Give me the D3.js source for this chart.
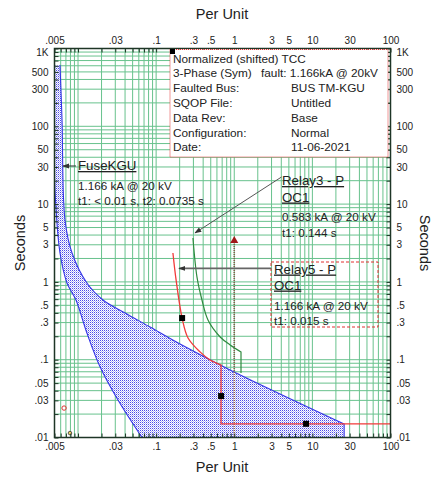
<!DOCTYPE html>
<html>
<head>
<meta charset="utf-8">
<script src="https://cdn.jsdelivr.net/npm/d3@7"></script>
<style>
  body { margin: 0; background: #fff; }
  text { font-family: Arial, "Liberation Sans", sans-serif; fill: #222; }
</style>
</head>
<body>
<svg id="chart" width="432" height="479"></svg>
<script>
// tick values / labels
const xTicks = [0.005, 0.03, 0.1, 0.3, 0.5, 1, 3, 5, 10, 30, 100];
const xTickLabels = [".005", ".03", ".1", ".3", ".5", "1", "3", "5", "10", "30", "100"];
const yTicks = [1000, 500, 300, 100, 50, 30, 10, 5, 3, 1, 0.5, 0.3, 0.1, 0.05, 0.03, 0.01];
const yTickLabels = ["1K", "500", "300", "100", "50", "30", "10", "5", "3", "1", ".5", ".3", ".1", ".05", ".03", ".01"];

// FuseKGU band (per unit, seconds)
const fuseMinMelt = [[0.0047, 614], [0.0049, 40], [0.00515, 11.3], [0.00588, 2.35], [0.00723, 0.968],
  [0.00942, 0.585], [0.013, 0.22], [0.0192, 0.0805], [0.0325, 0.0303], [0.0659, 0.01]];
const fuseTotalClear = [[0.00588, 614], [0.00624, 121], [0.00681, 6.25], [0.00838, 2.35], [0.013, 0.968],
  [0.0209, 0.585], [0.04, 0.398], [0.0836, 0.263], [0.202, 0.159], [0.883, 0.0738], [25.5, 0.0149]];
const fuseEnd = [[25.5, 0.0149], [25.5, 0.01]];

// Relay5 - P OC1 (red)
const relay5Curve = [[0.164, 2.35], [0.18, 1.06], [0.215, 0.343], [0.256, 0.19], [0.365, 0.126], [0.49, 0.099], [0.678, 0.0855]];
const relay5Step = [[0.678, 0.0855], [0.678, 0.015], [100, 0.015]];
const relay5Marks = [[0.215, 0.343], [0.678, 0.0341], [8.3, 0.015]];

// Relay3 - P OC1 (green)
const relay3Curve = [[0.296, 3.66], [0.333, 1.16], [0.386, 0.585], [0.461, 0.324], [0.66, 0.196], [0.886, 0.155], [1.22, 0.126]];
const relay3Step = [[1.22, 0.126], [1.22, 0.0675]];

// fault marker at 1 PU
const faultLine = [[1, 3.46], [1, 0.01]];

// leader arrow tips
const fuseTip = [0.00643, 30.9];
const relay3Tip = [0.315, 4.26];
const relay5Tip = [0.196, 1.49];

const infoLeft = ["Normalized (shifted) TCC", "3-Phase (Sym)", "Faulted  Bus:", "SQOP  File:", "Data  Rev:", "Configuration:", "Date:"];
const infoRight = ["fault: 1.166kA @ 20kV", "BUS TM-KGU", "Untitled", "Base", "Normal", "11-06-2021"];

const svg = d3.select("#chart");
const margin = { top: 48.5, right: 41.5, bottom: 41.5, left: 54.5 };
const width = 432, height = 479;

const x = d3.scaleLog().domain([0.005, 100]).range([margin.left, width - margin.right]);
const y = d3.scaleLog().domain([0.01, 1000]).range([height - margin.bottom, margin.top]);

const defs = svg.append("defs");
defs.append("clipPath").attr("id", "clip")
  .append("rect")
  .attr("x", margin.left).attr("y", margin.top)
  .attr("width", x.range()[1] - margin.left).attr("height", y.range()[0] - margin.top);

// dotted fill of the fuse band
const pat = defs.append("pattern").attr("id", "dots")
  .attr("patternUnits", "userSpaceOnUse").attr("width", 2).attr("height", 2);
pat.append("rect").attr("width", 2).attr("height", 2).attr("fill", "#ffffff");
pat.append("rect").attr("width", 1).attr("height", 1).attr("fill", "#4a4ae8");
pat.append("rect").attr("x", 1).attr("y", 1).attr("width", 1).attr("height", 1).attr("fill", "#b4b4f6");

defs.append("marker").attr("id", "arrow")
  .attr("viewBox", "0 -4 9 8").attr("refX", 8).attr("refY", 0)
  .attr("markerWidth", 7).attr("markerHeight", 7).attr("markerUnits", "userSpaceOnUse")
  .attr("orient", "auto")
  .append("path").attr("d", "M0,-3.2L9,0L0,3.2Z").attr("fill", "#333");

// grid lines 1..9 per decade
const minor = [];
for (let k = -3; k <= 3; k++) for (let n = 1; n <= 9; n++) minor.push(n * Math.pow(10, k));
const xMinor = minor.filter(v => v >= 0.005 * 0.999 && v <= 100 * 1.001);
const yMinor = minor.filter(v => v >= 0.01 * 0.999 && v <= 1000 * 1.001);

const grid = svg.append("g").attr("stroke", "#4fb87a").attr("stroke-width", 1).attr("opacity", 0.85);
grid.selectAll(".gx").data(xMinor).enter().append("line")
  .attr("x1", d => x(d)).attr("x2", d => x(d))
  .attr("y1", margin.top).attr("y2", y.range()[0]);
grid.selectAll(".gy").data(yMinor).enter().append("line")
  .attr("y1", d => y(d)).attr("y2", d => y(d))
  .attr("x1", margin.left).attr("x2", x.range()[1]);

const plot = svg.append("g").attr("clip-path", "url(#clip)");
const line = d3.line().x(d => x(d[0])).y(d => y(d[1]));
const smooth = d3.line().x(d => x(d[0])).y(d => y(d[1])).curve(d3.curveCatmullRom.alpha(0.5));

// fuse band
const bandPath = smooth(fuseMinMelt) +
  line([fuseMinMelt[fuseMinMelt.length - 1], fuseEnd[1]]).replace("M", "L") +
  line(fuseEnd.slice().reverse()).replace("M", "L") +
  smooth(fuseTotalClear.slice().reverse()).replace("M", "L") + "Z";
plot.append("path").attr("d", bandPath).attr("fill", "url(#dots)").attr("stroke", "none");
plot.append("path").attr("d", smooth(fuseMinMelt)).attr("fill", "none").attr("stroke", "#3434e8").attr("stroke-width", 1.1);
plot.append("path").attr("d", smooth(fuseTotalClear) + line(fuseEnd).replace("M", "L"))
  .attr("fill", "none").attr("stroke", "#3434e8").attr("stroke-width", 1.1);

// fault marker
plot.append("path").attr("d", line(faultLine)).attr("fill", "none")
  .attr("stroke", "#8a5a4a").attr("stroke-width", 1.6).attr("stroke-dasharray", "1,1");
plot.append("path")
  .attr("d", `M${x(1)},${y(3.46) - 4}l-4,7h8z`).attr("fill", "#a01818");

// relay3 green
plot.append("path").attr("d", smooth(relay3Curve) + line(relay3Step).replace("M", "L"))
  .attr("fill", "none").attr("stroke", "#2f8a3f").attr("stroke-width", 1.2);

// relay5 red
plot.append("path").attr("d", smooth(relay5Curve) + line(relay5Step).replace("M", "L"))
  .attr("fill", "none").attr("stroke", "#f23a3a").attr("stroke-width", 1.3);
plot.selectAll(".mk").data(relay5Marks).enter().append("rect")
  .attr("x", d => x(d[0]) - 3).attr("y", d => y(d[1]) - 3)
  .attr("width", 6).attr("height", 6).attr("fill", "#000");

// small device icons bottom-left
plot.append("circle").attr("cx", x(0.00663)).attr("cy", y(0.0239)).attr("r", 2.2)
  .attr("fill", "none").attr("stroke", "#e03030").attr("stroke-width", 1);
plot.append("circle").attr("cx", x(0.00789)).attr("cy", y(0.0114)).attr("r", 1.8)
  .attr("fill", "#e8d060").attr("stroke", "#333").attr("stroke-width", 0.8);

// axes (inward ticks)
const fmt = (vals, labels) => d => { const i = vals.findIndex(v => Math.abs(v / d - 1) < 1e-6); return i >= 0 ? labels[i] : ""; };
const axisStyle = g => {
  g.select(".domain").remove();
  g.selectAll(".tick line").attr("stroke", "#1e3526").attr("stroke-width", 1);
  g.selectAll(".tick text").attr("fill", "#222").style("font-size", "10px").style("font-family", "Arial, 'Liberation Sans', sans-serif");
};
svg.append("g").attr("transform", `translate(0,${margin.top})`)
  .call(d3.axisTop(x).tickValues(xMinor).tickFormat(fmt(xTicks, xTickLabels)).tickSizeInner(-4).tickSizeOuter(0).tickPadding(5))
  .call(axisStyle);
svg.append("g").attr("transform", `translate(0,${y.range()[0]})`)
  .call(d3.axisBottom(x).tickValues(xMinor).tickFormat(fmt(xTicks, xTickLabels)).tickSizeInner(-4).tickSizeOuter(0).tickPadding(5))
  .call(axisStyle);
const yl = svg.append("g").attr("transform", `translate(${margin.left},0)`)
  .call(d3.axisLeft(y).tickValues(yMinor).tickFormat(fmt(yTicks, yTickLabels)).tickSizeInner(-4).tickSizeOuter(0).tickPadding(6))
  .call(axisStyle);
const yr = svg.append("g").attr("transform", `translate(${x.range()[1]},0)`)
  .call(d3.axisRight(y).tickValues(yMinor).tickFormat(fmt(yTicks, yTickLabels)).tickSizeInner(-4).tickSizeOuter(0).tickPadding(6))
  .call(axisStyle);
[yl, yr].forEach(g => g.selectAll(".tick text").filter(d => d === 1000).attr("dy", "0.7em"));

// frame
svg.append("rect").attr("x", margin.left).attr("y", margin.top)
  .attr("width", x.range()[1] - margin.left).attr("height", y.range()[0] - margin.top)
  .attr("fill", "none").attr("stroke", "#1e3526").attr("stroke-width", 1.5);

// axis titles
svg.append("text").attr("x", 222).attr("y", 19).attr("text-anchor", "middle").style("font-size", "14.5px").text("Per Unit");
svg.append("text").attr("x", 222).attr("y", 472).attr("text-anchor", "middle").style("font-size", "14.5px").text("Per Unit");
svg.append("text").attr("transform", "translate(25,243) rotate(-90)").attr("text-anchor", "middle").style("font-size", "14.5px").text("Seconds");
svg.append("text").attr("transform", "translate(420,243) rotate(90)").attr("text-anchor", "middle").style("font-size", "14.5px").text("Seconds");

// info box
svg.append("rect").attr("x", 170).attr("y", 49.5).attr("width", 218).attr("height", 107.5)
  .attr("fill", "#fff").attr("stroke", "#e03030").attr("stroke-width", 1).attr("stroke-dasharray", "1,1");
svg.append("rect").attr("x", 170).attr("y", 49).attr("width", 5).attr("height", 5).attr("fill", "#000");
const info = svg.append("g").style("font-size", "11.8px");
infoLeft.forEach((t, i) => info.append("text").attr("x", 173).attr("y", 62.5 + i * 14.8).text(t));
infoRight.forEach((t, i) => info.append("text").attr("x", i === 0 ? 261 : 291).attr("y", 62.5 + (i + 1) * 14.8).text(t));

// labels
function label(xp, lines) {
  const g = svg.append("g");
  lines.forEach(l => g.append("text").attr("x", xp).attr("y", l.y)
    .style("font-size", l.head ? "13.3px" : "11.7px")
    .attr("text-decoration", l.head ? "underline" : null).text(l.t));
}
label(78, [{ t: "FuseKGU", y: 170, head: true }, { t: "1.166 kA @ 20 kV", y: 190 }, { t: "t1: < 0.01 s, t2: 0.0735 s", y: 205 }]);
label(282, [{ t: "Relay3 - P", y: 185, head: true }, { t: "OC1", y: 201.5, head: true }, { t: "0.583 kA @ 20 kV", y: 221 }, { t: "t1: 0.144 s", y: 237 }]);
label(274, [{ t: "Relay5 - P", y: 273.5, head: true }, { t: "OC1", y: 289.5, head: true }, { t: "1.166 kA @ 20 kV", y: 310 }, { t: "t1: 0.015 s", y: 325 }]);
svg.append("rect").attr("x", 271).attr("y", 262).attr("width", 107).attr("height", 65)
  .attr("fill", "none").attr("stroke", "#e03030").attr("stroke-width", 1).attr("stroke-dasharray", "3,2");

// leaders
svg.append("line").attr("x1", 76).attr("y1", y(fuseTip[1])).attr("x2", x(fuseTip[0])).attr("y2", y(fuseTip[1]))
  .attr("stroke", "#333").attr("stroke-width", 1).attr("marker-end", "url(#arrow)");
svg.append("line").attr("x1", 281.5).attr("y1", 177).attr("x2", x(relay3Tip[0])).attr("y2", y(relay3Tip[1]))
  .attr("stroke", "#555").attr("stroke-width", 1).attr("marker-end", "url(#arrow)");
svg.append("line").attr("x1", 271).attr("y1", y(relay5Tip[1])).attr("x2", x(relay5Tip[0])).attr("y2", y(relay5Tip[1]))
  .attr("stroke", "#666").attr("stroke-width", 1.8).attr("marker-end", "url(#arrow)");
</script>
</body>
</html>
